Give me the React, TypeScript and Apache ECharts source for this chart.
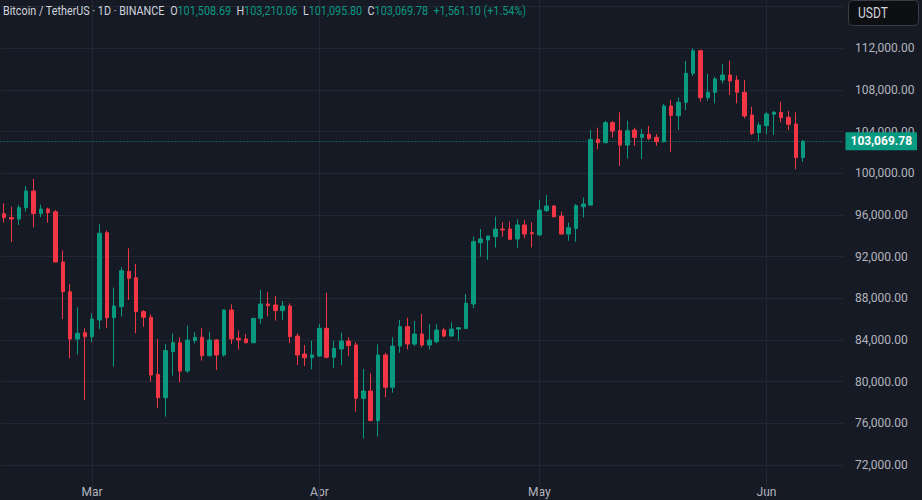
import React, { useEffect, useRef } from 'react';
import * as echarts from 'echarts';

const symbolTitle = 'Bitcoin / TetherUS · 1D · BINANCE';
const currencyLabel = 'USDT';
const firstDay = '2025-02-17';
const trailingEmptyDays = 5;
const monthNames = ['Jan', 'Feb', 'Mar', 'Apr', 'May', 'Jun', 'Jul', 'Aug', 'Sep', 'Oct', 'Nov', 'Dec'];

const opens = [
  96120, 95740, 95610, 96700, 98300, 96130, 96570, 96300, 91490, 88640,
  84090, 84700, 84320, 85920, 94300, 86140, 87200, 90590, 89980, 86720,
  86180, 80700, 78460, 82880, 83740, 81020, 83940, 84260, 82500, 84000,
  82560, 86880, 84160, 84100, 83740, 86080, 87460, 87360, 86820, 87260,
  84380, 82650, 82300, 82460, 85120, 82340, 83140, 83900, 83520, 78400,
  79100, 76260, 82560, 79460, 83420, 85280, 83610, 84570, 83520, 83840,
  84960, 84380, 85050, 85100, 87450, 93340, 93600, 93920, 94650, 94650,
  93690, 95040, 94300, 94080, 96410, 96860, 95900, 94170, 94710, 96790,
  96950, 103260, 102940, 104860, 104090, 102710, 104150, 103450, 103740, 103450,
  103030, 106460, 105530, 106810, 109590, 111770, 107260, 107770, 108950, 109430,
  108950, 107770, 105590, 103900, 104570, 105660, 105850, 105370, 104730, 101508.69,
];
const highs = [
  97120, 96800, 96960, 98780, 99450, 96990, 96700, 96480, 92580, 89380,
  87140, 85120, 86560, 95100, 94500, 89030, 90980, 92800, 91300, 86880,
  86460, 84100, 83620, 84640, 84260, 85380, 84740, 85120, 84800, 84100,
  86940, 87420, 84900, 84580, 86100, 88800, 88600, 88220, 87740, 87520,
  84640, 83520, 83940, 85540, 88540, 83940, 84700, 84260, 83780, 81220,
  80800, 83580, 82780, 84260, 85920, 86140, 85820, 86490, 85530, 85500,
  85180, 85690, 85210, 88410, 93920, 94650, 94000, 95840, 95290, 95360,
  95580, 95520, 95290, 97430, 97910, 96950, 96310, 95260, 97050, 97690,
  104150, 104380, 105020, 105020, 105850, 105050, 104380, 104250, 104540, 103770,
  106650, 107030, 107290, 110780, 111990, 111830, 109530, 109270, 110460, 110810,
  109370, 108950, 106390, 104890, 105910, 105980, 106870, 105980, 105850, 103210.06,
];
const lows = [
  95260, 93400, 95040, 96320, 94810, 95800, 95260, 91420, 86010, 82240,
  82620, 78250, 83800, 85050, 85180, 81440, 86240, 87840, 84640, 85280,
  80000, 77500, 76640, 80580, 79940, 80860, 83680, 82020, 82400, 81120,
  82400, 83620, 83100, 83680, 83700, 85540, 86260, 85860, 85920, 83680,
  81600, 81500, 81180, 82400, 82240, 81280, 81600, 82460, 77120, 74560,
  76200, 74720, 78500, 78940, 82780, 83100, 83420, 83290, 83100, 83680,
  84250, 84320, 83930, 85050, 87040, 92000, 91680, 92860, 93920, 93600,
  92860, 93760, 92890, 94000, 96300, 95770, 94100, 93530, 93430, 95770,
  96900, 102300, 102870, 103420, 100700, 101430, 102620, 101370, 103190, 102650,
  102940, 102070, 104150, 106070, 109340, 106870, 106970, 106710, 108630, 107510,
  106710, 105270, 103670, 103100, 103740, 103670, 104890, 104150, 100380, 101095.8,
];
const closes = [
  95740, 95610, 96700, 98300, 96130, 96570, 96220, 91490, 88640, 84090,
  84640, 84320, 86010, 94240, 86140, 87260, 90650, 89920, 86720, 86180,
  80640, 78460, 82980, 83740, 81020, 84000, 84260, 82500, 84000, 82560,
  86880, 84100, 84000, 83740, 86080, 87460, 87300, 86820, 87260, 84320,
  82560, 82300, 82560, 85120, 82340, 83200, 83900, 83460, 78400, 79100,
  76260, 82560, 79460, 83420, 85280, 83610, 84570, 83520, 84000, 84960,
  84380, 85050, 85180, 87520, 93440, 93690, 93980, 94650, 94560, 93660,
  95040, 94170, 94200, 96470, 96860, 95830, 94170, 94780, 96890, 97050,
  103260, 102940, 104860, 104060, 102710, 104090, 103450, 103740, 103350, 103030,
  106460, 105560, 106810, 109590, 111770, 107260, 107770, 109050, 109430, 108860,
  107770, 105500, 103830, 104630, 105690, 105850, 105340, 104700, 101508.68, 103069.78,
];

const priceMin = 68000;
const priceMax = 120000;
const priceStep = 4000;
const labelMin = 72000;
const labelMax = 112000;

const UP = '#089981';
const DOWN = '#F23645';
const BG = '#161A25';
const GRID = '#232733';
const TEXT = '#B2B5BE';
const FONT = 'Roboto, sans-serif';

const fmt = (n: number) =>
  n.toLocaleString('en-US', { minimumFractionDigits: 2, maximumFractionDigits: 2 });

const dates: string[] = [];
{
  const base = Date.parse(firstDay + 'T00:00:00Z');
  for (let i = 0; i < opens.length + trailingEmptyDays; i++) {
    dates.push(new Date(base + i * 86400000).toISOString().slice(0, 10));
  }
}
const monthStarts = dates.filter((d) => d.endsWith('-01'));

const candleData = dates.map((_, i) =>
  i < opens.length ? [opens[i], closes[i], lows[i], highs[i]] : '-'
);

const last = opens.length - 1;
const lastClose = closes[last];
const change = closes[last] - closes[last - 1];
const changePct = (change / closes[last - 1]) * 100;

function buildOption(): any {
  return {
    animation: false,
    backgroundColor: BG,
    grid: {
      left: 0.5,
      right: 78.5,
      top: -35.1,
      bottom: -6.7,
      containLabel: false,
      outerBoundsMode: 'none',
    },
    xAxis: {
      type: 'category',
      data: dates,
      boundaryGap: true,
      offset: -28.7,
      axisLine: { show: false },
      axisTick: { show: false },
      splitLine: { show: false },
      axisLabel: {
        interval: (_i: number, v: string) => v.endsWith('-01'),
        formatter: (v: string) => monthNames[Number(v.slice(5, 7)) - 1],
        color: TEXT,
        fontSize: 12,
        fontFamily: FONT,
        margin: 8,
      },
    },
    yAxis: {
      type: 'value',
      position: 'right',
      min: priceMin,
      max: priceMax,
      interval: priceStep,
      axisLine: { show: false },
      axisTick: { show: false },
      splitLine: { show: true, lineStyle: { color: GRID, width: 1 } },
      axisLabel: {
        margin: 11.5,
        color: TEXT,
        fontSize: 12,
        fontFamily: FONT,
        formatter: (v: number) => (v >= labelMin && v <= labelMax ? fmt(v) : ''),
      },
    },
    series: [
      {
        type: 'candlestick',
        data: candleData,
        barWidth: 4,
        itemStyle: {
          color: UP,
          color0: DOWN,
          borderColor: UP,
          borderColor0: DOWN,
          borderWidth: 1,
        },
        markLine: {
          silent: true,
          z: 1,
          symbol: 'none',
          animation: false,
          data: [
            ...monthStarts.map((d) => ({
              xAxis: d,
              lineStyle: { color: GRID, type: 'solid', width: 1 },
              label: { show: false },
            })),
            {
              yAxis: lastClose,
              lineStyle: { color: UP, type: [1, 2], width: 1 },
              label: {
                show: true,
                position: 'end',
                distance: 2,
                formatter: fmt(lastClose),
                color: '#FFFFFF',
                backgroundColor: UP,
                padding: [3, 5, 3, 5],
                fontSize: 12,
                fontWeight: 'bold',
                fontFamily: FONT,
              },
            },
          ],
        },
      },
    ],
    graphic: [
      {
        type: 'text',
        z: 100,
        x: 3,
        y: 11,
        scaleX: 0.83,
        style: {
          text:
            '{t|' + symbolTitle + '}  ' +
            '{k|O}{v|' + fmt(opens[last]) + '}  ' +
            '{k|H}{v|' + fmt(highs[last]) + '}  ' +
            '{k|L}{v|' + fmt(lows[last]) + '}  ' +
            '{k|C}{v|' + fmt(closes[last]) + '}  ' +
            '{v|' + (change >= 0 ? '+' : '') + fmt(change) + ' (' + (change >= 0 ? '+' : '') + changePct.toFixed(2) + '%)}',
          font: '13px Roboto',
          verticalAlign: 'middle',
          fill: '#D1D4DC',
          rich: {
            t: { fill: '#D1D4DC', font: '13px Roboto' },
            k: { fill: '#D1D4DC', font: '13px Roboto' },
            v: { fill: UP, font: '13px Roboto' },
          },
        },
      },
      {
        type: 'rect',
        z: 100,
        shape: { x: 848.5, y: 0.5, width: 70, height: 25, r: 4 },
        style: { fill: '#0E0F12', stroke: '#3A3D45', lineWidth: 1 },
      },
      {
        type: 'text',
        z: 101,
        x: 858,
        y: 13,
        scaleX: 0.86,
        style: {
          text: currencyLabel,
          font: '14px Roboto',
          verticalAlign: 'middle',
          fill: '#D1D4DC',
        },
      },
    ],
  };
}

export default function App() {
  const ref = useRef<HTMLDivElement>(null);
  useEffect(() => {
    if (!ref.current) return;
    const chart = echarts.init(ref.current, null, { renderer: 'svg' });
    chart.setOption(buildOption());
    return () => chart.dispose();
  }, []);
  return (
    <div
      ref={ref}
      style={{ position: 'fixed', left: 0, top: 0, width: 922, height: 500 }}
    />
  );
}
